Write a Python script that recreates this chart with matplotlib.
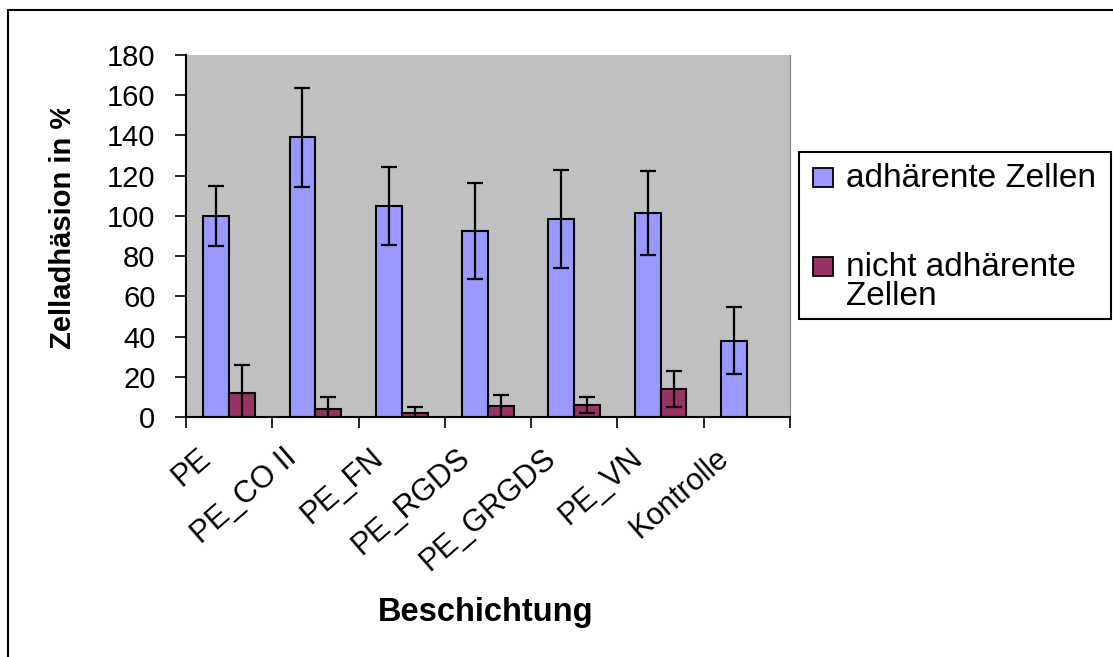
import numpy as np
import matplotlib
matplotlib.use('Agg')
import matplotlib.pyplot as plt
import matplotlib.patches as mpatches
from matplotlib.transforms import ScaledTranslation, Bbox, TransformedBbox

plt.rcParams['font.family'] = ['Liberation Sans', 'DejaVu Sans']

categories = ['PE', 'PE_CO II', 'PE_FN', 'PE_RGDS', 'PE_GRGDS', 'PE_VN', 'Kontrolle']
adherent = [100, 139, 105, 92.5, 98.5, 101.5, 38]
adherent_err = [15, 24.5, 19.5, 24, 24.5, 21, 16.5]
non_adherent = [12, 4, 2, 5.5, 6, 14, np.nan]
non_adherent_err = [14, 6, 3, 5.5, 4, 9, np.nan]
y_ticks = [0, 20, 40, 60, 80, 100, 120, 140, 160, 180]
legend_lines = [['adhärente Zellen'], ['nicht adhärente', 'Zellen']]

blue = '#9999FF'
red = '#993366'
W, H = 1113, 657


def px(x, y):
    # pixel position (from top-left) -> figure fraction
    return x / W, 1 - y / H


fig = plt.figure(figsize=(W / 100, H / 100), dpi=100)
ax = fig.add_axes([186 / W, 1 - 417 / H, (790 - 186) / W, (417 - 55) / H])
ax.set_facecolor('#C0C0C0')

x = np.arange(len(categories))
bw = 0.3
ax.bar(x - bw / 2, adherent, bw, color=blue, edgecolor='black', linewidth=1.5, zorder=2)
ax.bar(x + bw / 2, non_adherent, bw, color=red, edgecolor='black', linewidth=1.5, zorder=2)
ax.errorbar(x - bw / 2, adherent, yerr=adherent_err, fmt='none', ecolor='black',
            elinewidth=1.6, capsize=6, capthick=1.6, zorder=3)
ax.errorbar(x + bw / 2, non_adherent, yerr=non_adherent_err, fmt='none', ecolor='black',
            elinewidth=1.6, capsize=6, capthick=1.6, zorder=3)

ax.set_xlim(-0.5, len(categories) - 0.5)
ax.set_ylim(0, 180)
ax.set_yticks(y_ticks)
ax.tick_params(axis='y', direction='out', length=8, width=1.2, pad=14, labelsize=21)

ax.set_xticks(x)
ax.set_xticklabels(categories, rotation=41, ha='right', rotation_mode='anchor', fontsize=22)
ax.tick_params(axis='x', which='major', length=0, pad=18.7)
shift = ScaledTranslation(-0.32, 0, fig.dpi_scale_trans)
for lab in ax.get_xticklabels():
    lab.set_transform(lab.get_transform() + shift)
ax.set_xticks(np.arange(-0.5, len(categories)), minor=True)
ax.tick_params(axis='x', which='minor', direction='out', length=8, width=1.2)

ax.spines['top'].set_visible(False)
ax.spines['right'].set_color('#808080')
ax.spines['left'].set_linewidth(1.5)
ax.spines['bottom'].set_linewidth(1.5)

# axis titles (the y title is cut off at the top, as in the original)
ylab = fig.text(*px(63, 226), 'Zelladhäsion in %', rotation=90, fontsize=21, fontweight='bold',
                ha='center', va='center')
ylab.set_clip_box(TransformedBbox(Bbox.from_extents(0, 0, 1, 1 - 109 / H), fig.transFigure))
ylab.set_clip_on(True)
fig.text(*px(486, 613), 'Beschichtung', fontsize=23.5, fontweight='bold', ha='center', va='center')

# outer chart border (only left and top visible)
x0, y0 = px(8, 10)
fig.add_artist(mpatches.Rectangle((x0, -0.2), 1.5, y0 + 0.2, fill=False, edgecolor='black',
                                  linewidth=1.5, transform=fig.transFigure))

# legend box, drawn by hand
lx0, ly0 = px(799, 319)
lx1, ly1 = px(1111, 152)
fig.add_artist(mpatches.Rectangle((lx0, ly0), lx1 - lx0, ly1 - ly0, fill=False, edgecolor='black',
                                  linewidth=1.5, transform=fig.transFigure))
for col, lines, top, base in [(blue, legend_lines[0], 168, 187), (red, legend_lines[1], 257, 276)]:
    px0, py0 = px(813, base)
    fig.add_artist(mpatches.Rectangle((px0, py0), 20 / W, (base - top) / H, facecolor=col,
                                      edgecolor='black', linewidth=1.3, transform=fig.transFigure))
    for k, line in enumerate(lines):
        tx, ty = px(846, base + 29 * k)
        fig.text(tx, ty, line, fontsize=24, ha='left', va='baseline')

fig.savefig('out.png', dpi=100)
